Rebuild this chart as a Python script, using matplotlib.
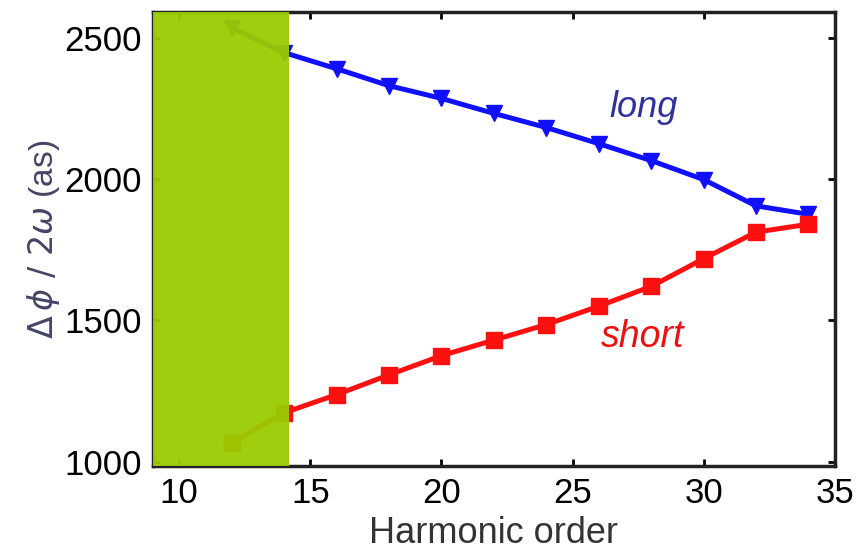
import matplotlib.pyplot as plt
import numpy as np

plt.rcParams['font.family'] = ['Liberation Sans', 'DejaVu Sans']

# harmonic orders and group delay for the two trajectories
orden = [12, 14, 16, 18, 20, 22, 24, 26, 28, 30, 32, 34]
largo = [2535, 2447, 2390, 2330, 2285, 2232, 2182, 2125, 2065, 1998, 1905, 1875]
corto = [1067, 1173, 1237, 1307, 1375, 1430, 1485, 1550, 1620, 1718, 1812, 1840]

fig = plt.figure(figsize=(8.57, 5.54), dpi=100)
ax = fig.add_axes([0.1785, 0.159, 0.7955, 0.819])

ax.plot(orden, largo, color='#1010ff', linewidth=3.6, marker='v', markersize=12, zorder=2)
ax.plot(orden, corto, color='#ff1010', linewidth=3.6, marker='s', markersize=11, zorder=2)

# shaded region below the cutoff
ax.axvspan(9, 14.2, color='#99cc00', alpha=0.95, linewidth=0, zorder=3)

ax.text(26.4, 2220, 'long', color='#3030a0', fontsize=26, style='italic')
ax.text(26.1, 1405, 'short', color='#ee1010', fontsize=27, style='italic')

ax.set_xlim(9, 35)
ax.set_ylim(985, 2590)
ax.set_xticks([10, 15, 20, 25, 30, 35])
ax.set_yticks([1000, 1500, 2000, 2500])
ax.tick_params(direction='in', length=5, width=2, labelsize=25, top=True, right=True, pad=8)
for s in ax.spines.values():
    s.set_linewidth(2.5)
    s.set_color('#222222')

ax.set_xlabel('Harmonic order', fontsize=26, color='#333333', labelpad=4)
ax.set_ylabel(r'$\Delta\,\phi\ /\ 2\omega$ (as)', fontsize=24, color='#444466', labelpad=2)

plt.savefig('out.png', dpi=100)
